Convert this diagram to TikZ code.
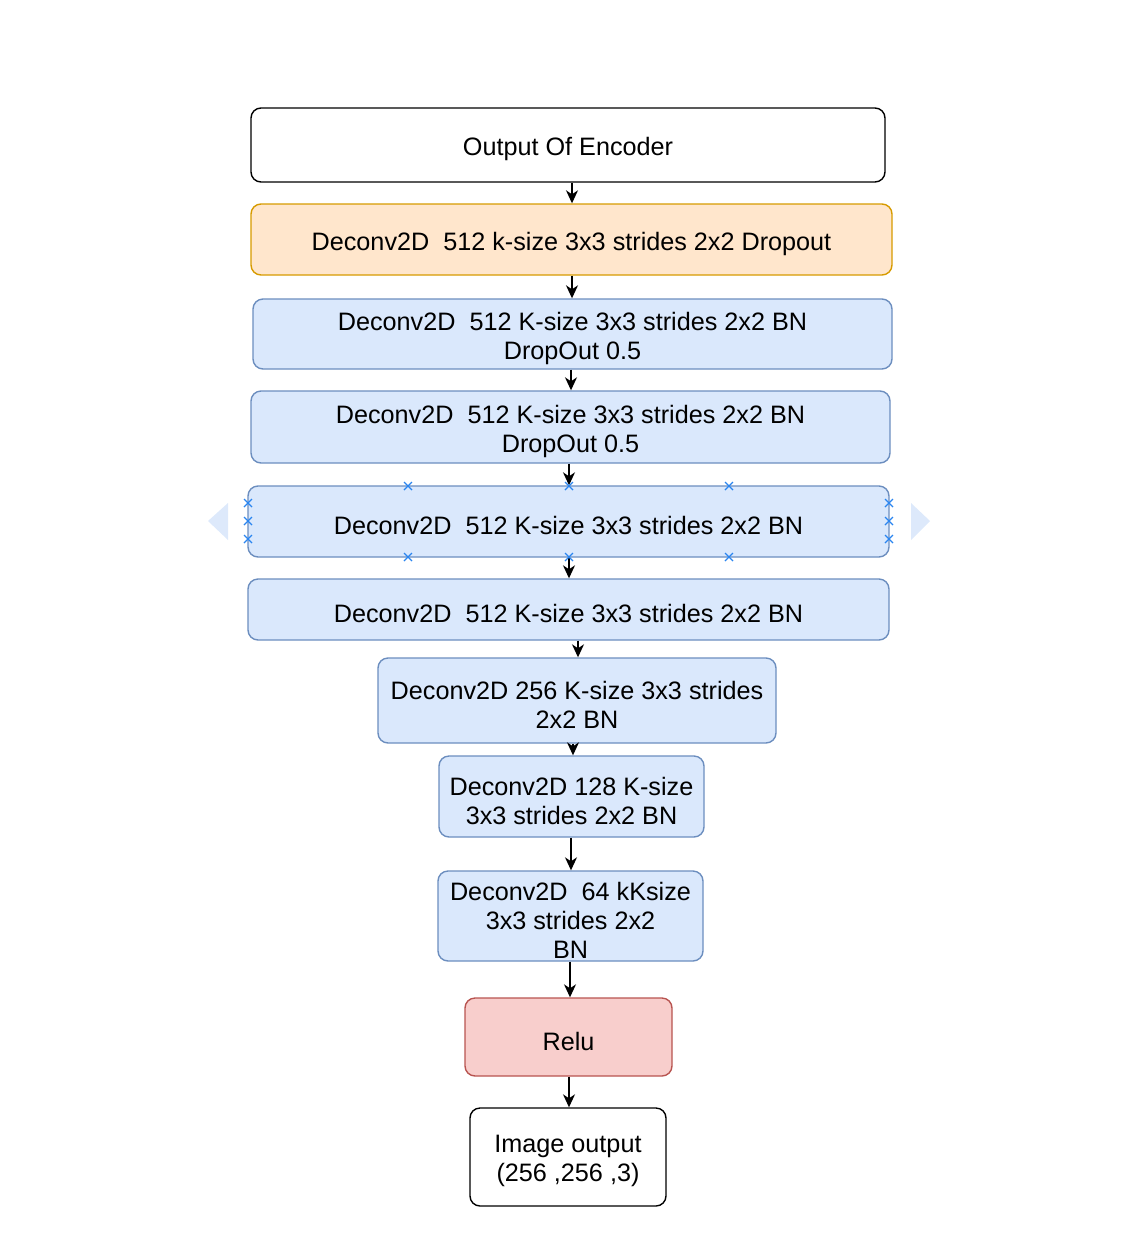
\documentclass[tikz,border=0pt]{standalone}
\usepackage{fontspec}
\setmainfont{Liberation Sans}
\usetikzlibrary{arrows.meta}
\definecolor{orfill}{HTML}{FFE6CC}
\definecolor{ordraw}{HTML}{D79B00}
\definecolor{blfill}{HTML}{DAE8FC}
\definecolor{bldraw}{HTML}{6C8EBF}
\definecolor{rdfill}{HTML}{F8CECC}
\definecolor{rddraw}{HTML}{B85450}
\definecolor{handle}{HTML}{2A85F0}
\definecolor{tri}{HTML}{DDE9FB}
\tikzset{
  box/.style={rectangle, rounded corners=10pt, line width=1.4pt, inner sep=0pt},
  lbl/.style={align=center, inner sep=0pt, yshift=-4pt, font=\fontsize{25.2}{29}\selectfont},
  plain/.style={box, draw=black, fill=white},
  orange/.style={box, draw=ordraw, fill=orfill},
  blue/.style={box, draw=bldraw, fill=blfill},
  red/.style={box, draw=rddraw, fill=rdfill},
  arr/.style={line width=1.6pt, -{Stealth[length=13pt,width=12pt,inset=4pt]}},
  hx/.style={handle, line width=1.1pt},
}
\newcommand{\boxat}[7]{% name, style, x1, y1, x2, y2, text
  \node[#2, minimum width={#5-#3}, minimum height={#6-#4},
    label={[lbl]center:{#7}}] (#1) at ({(#3+#5)/2},{(#4+#6)/2}) {};}
\newcommand{\hcross}[2]{\draw[hx] (#1-4,#2-4) -- (#1+4,#2+4) (#1-4,#2+4) -- (#1+4,#2-4);}
\begin{document}
\begin{tikzpicture}[x=1pt,y=-1pt]
\useasboundingbox (0,0) rectangle (1148,1254);
\boxat{enc}{plain}{251}{108}{885}{182}{Output Of Encoder}
\boxat{d1}{orange}{251}{204}{892}{275}{Deconv2D\ \ 512 k-size 3x3 strides 2x2 Dropout}
\boxat{d2}{blue}{253}{299}{892}{369}{Deconv2D\ \ 512 K-size 3x3 strides 2x2 BN\\DropOut 0.5}
\boxat{d3}{blue}{251}{391}{890}{463}{Deconv2D\ \ 512 K-size 3x3 strides 2x2 BN\\DropOut 0.5}
\boxat{d4}{blue}{248}{486}{889}{557}{Deconv2D\ \ 512 K-size 3x3 strides 2x2 BN}
\boxat{d5}{blue}{248}{579}{889}{640}{Deconv2D\ \ 512 K-size 3x3 strides 2x2 BN}
\boxat{d6}{blue}{378}{658}{776}{743}{Deconv2D 256 K-size 3x3 strides\\2x2 BN}
\boxat{d7}{blue}{439}{756}{704}{837}{Deconv2D 128 K-size\\3x3 strides 2x2 BN}
\boxat{d8}{blue}{438}{871}{703}{961}{Deconv2D\ \ 64 kKsize\\3x3 strides 2x2\\BN}
\boxat{relu}{red}{465}{998}{672}{1076}{Relu}
\boxat{out}{plain}{470}{1108}{666}{1206}{Image output\\(256 ,256 ,3)}
% connectors
\draw[arr] (enc.south -| 572,0) -- (d1.north -| 572,0);
\draw[arr] (d1.south -| 572,0) -- (d2.north -| 572,0);
\draw[arr] (d2.south -| 571,0) -- (d3.north -| 571,0);
\draw[arr] (d3.south -| 569,0) -- (d4.north -| 569,0);
\draw[arr] (d4.south -| 569,0) -- (d5.north -| 569,0);
\draw[arr] (d5.south -| 578,0) -- (d6.north -| 578,0);
\draw[arr] (d6.south -| 573,0) -- (d7.north -| 573,0);
\draw[arr] (d7.south -| 571,0) -- (d8.north -| 571,0);
\draw[arr] (d8.south -| 570,0) -- (relu.north -| 570,0);
\draw[arr] (relu.south -| 569,0) -- (out.north -| 569,0);
% selection handles
\foreach \hx in {408,569,729} {\hcross{\hx}{486}\hcross{\hx}{557}}
\foreach \hy in {503,521,539} {\hcross{248}{\hy}\hcross{889}{\hy}}
\fill[tri] (208,521) -- (228,503) -- (228,540) -- cycle;
\fill[tri] (930,521) -- (911,503) -- (911,540) -- cycle;
\end{tikzpicture}
\end{document}
